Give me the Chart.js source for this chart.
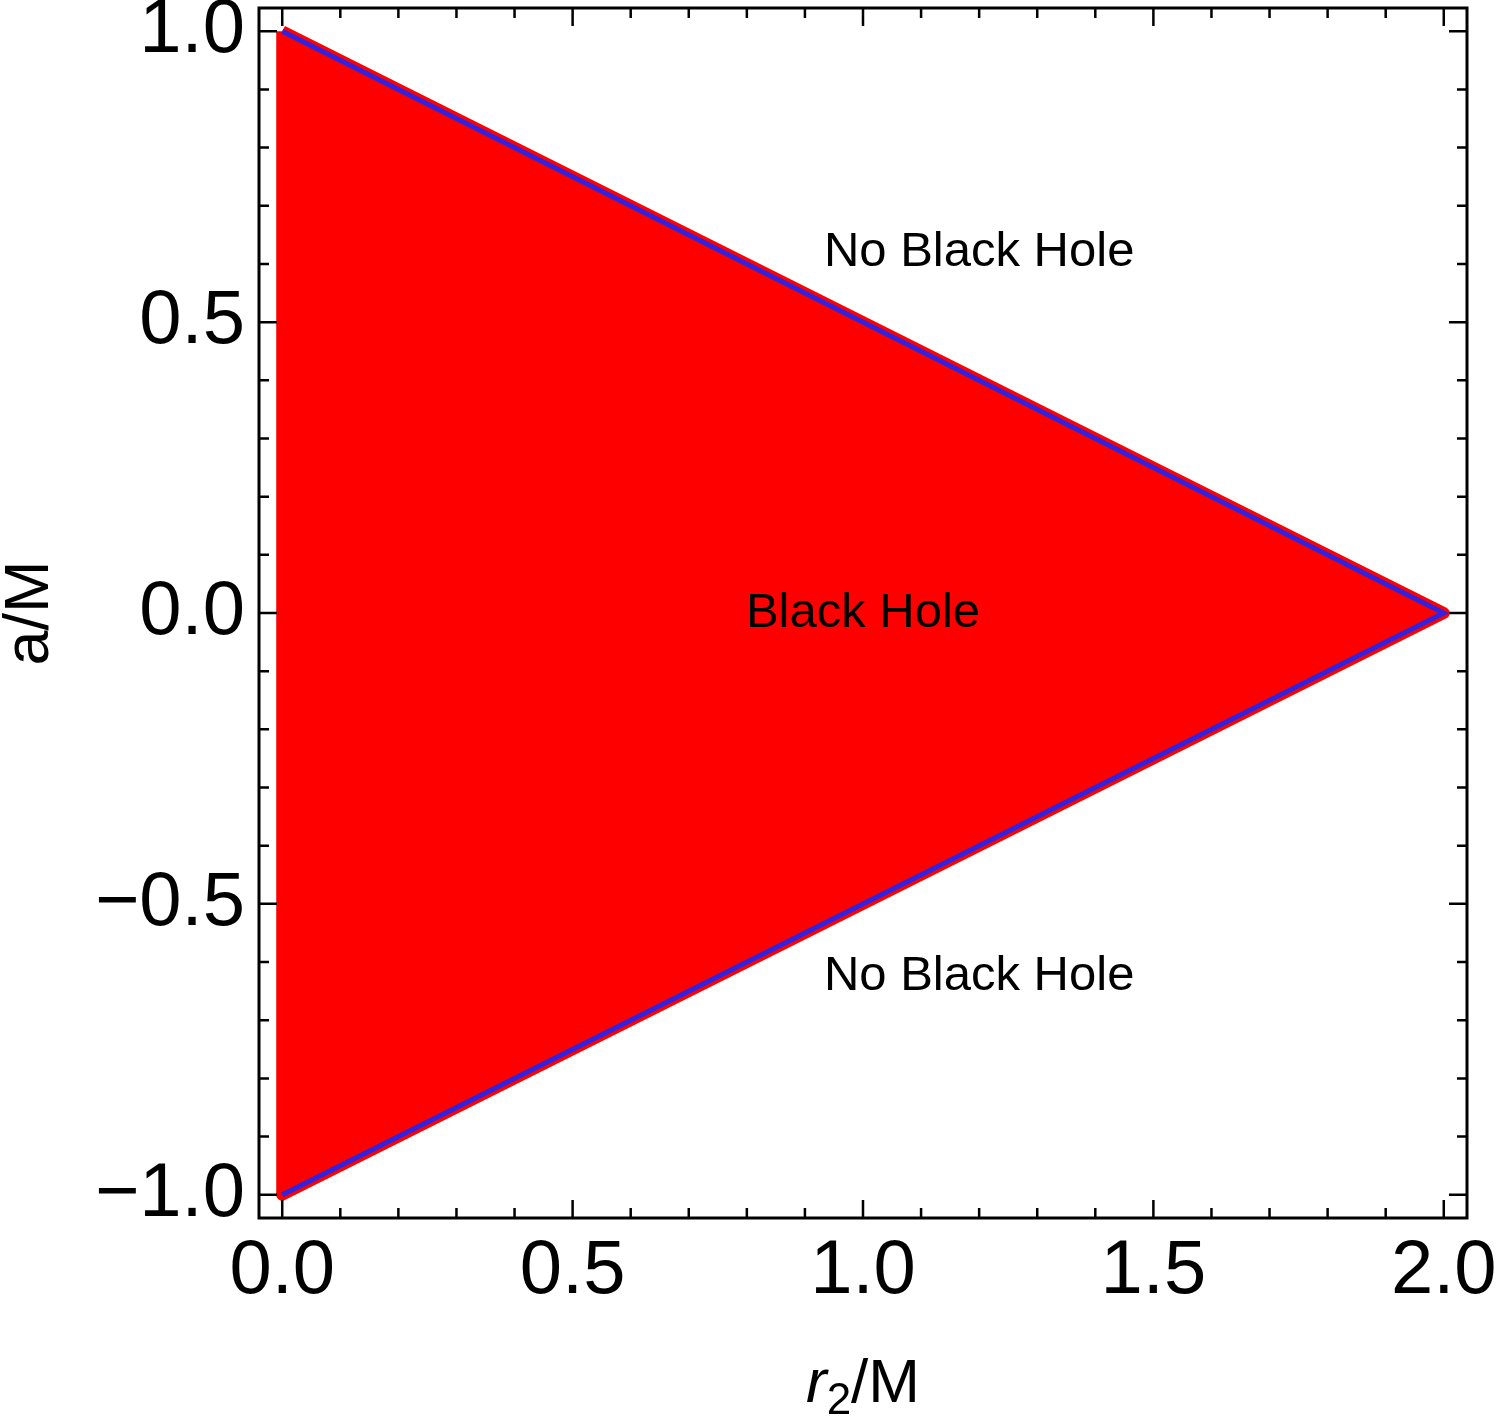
<!DOCTYPE html>
<html>
<head>
<meta charset="utf-8">
<script src="https://cdn.jsdelivr.net/npm/chart.js@4"></script>
<style>
  html, body { margin: 0; padding: 0; background: #fff; }
  #wrap { width: 1496px; height: 1416px; }
</style>
</head>
<body>
<div id="wrap"><canvas id="bhChart" width="1496" height="1416"></canvas></div>
<script>
// corners of the black-hole region (r2/M, a/M)
const regionR2 = [0, 2, 0, 0];
const regionA = [1, 0, -1, 1];
// boundary line a = +/-(1 - r2/2)
const edgeR2 = [0, 2, 0];
const edgeA = [1, 0, -1];

const r2Ticks = [0, 0.5, 1, 1.5, 2];
const aTicks = [-1, -0.5, 0, 0.5, 1];

const regionNames = ["No Black Hole", "Black Hole", "No Black Hole"];
const nameR2 = [1.2, 1.0, 1.2];
const nameA = [0.62, 0, -0.625];

const FONT = "'Liberation Sans', Arial, Helvetica, sans-serif";

function fmt(v) {
  const s = Math.abs(v).toFixed(1);
  return v < 0 ? "\u2212" + s : s;
}

const toPts = (xs, ys) => xs.map((x, i) => ({ x: x, y: ys[i] }));

// frame, inward ticks on all sides, text labels
const framePlugin = {
  id: "frame",
  afterDatasetsDraw(chart) {
    const ctx = chart.ctx;
    const xs = chart.scales.x, ys = chart.scales.y;
    const a = chart.chartArea;

    ctx.save();
    ctx.fillStyle = "#000";
    ctx.textAlign = "center";
    ctx.textBaseline = "middle";
    ctx.font = "49px " + FONT;
    regionNames.forEach((t, i) => {
      ctx.fillText(t, xs.getPixelForValue(nameR2[i]), ys.getPixelForValue(nameA[i]));
    });

    ctx.strokeStyle = "#000";
    ctx.lineWidth = 3;
    ctx.strokeRect(a.left, a.top, a.right - a.left, a.bottom - a.top);

    ctx.lineWidth = 2.5;
    ctx.beginPath();
    for (let k = 0; k <= 20; k++) {
      const v = k / 10;
      const px = xs.getPixelForValue(v);
      const len = k % 5 === 0 ? 18 : 10;
      ctx.moveTo(px, a.bottom); ctx.lineTo(px, a.bottom - len);
      ctx.moveTo(px, a.top); ctx.lineTo(px, a.top + len);
    }
    for (let k = -10; k <= 10; k++) {
      const v = k / 10;
      const py = ys.getPixelForValue(v);
      const len = k % 5 === 0 ? 18 : 10;
      ctx.moveTo(a.left, py); ctx.lineTo(a.left + len, py);
      ctx.moveTo(a.right, py); ctx.lineTo(a.right - len, py);
    }
    ctx.stroke();

    // x axis title: italic r, subscript 2, /M
    const base = 1402;
    const cx = (a.left + a.right) / 2;
    ctx.textAlign = "left";
    ctx.textBaseline = "alphabetic";
    ctx.font = "italic 62px " + FONT;
    const wR = ctx.measureText("r").width;
    ctx.font = "44px " + FONT;
    const w2 = ctx.measureText("2").width;
    ctx.font = "62px " + FONT;
    const wM = ctx.measureText("/M").width;
    let x0 = cx - (wR + w2 + wM) / 2;
    ctx.font = "italic 62px " + FONT;
    ctx.fillText("r", x0, base);
    x0 += wR;
    ctx.font = "44px " + FONT;
    ctx.fillText("2", x0, base + 12);
    x0 += w2;
    ctx.font = "62px " + FONT;
    ctx.fillText("/M", x0, base);
    ctx.restore();
  }
};

const config = {
  type: "scatter",
  data: {
    datasets: [
      {
        label: "boundary",
        data: toPts(edgeR2, edgeA),
        showLine: true,
        borderColor: "#3322dd",
        borderWidth: 5,
        pointRadius: 0,
        fill: false,
        order: 1
      },
      {
        label: "Black Hole",
        data: toPts(regionR2, regionA),
        showLine: true,
        borderColor: "#ff0000",
        backgroundColor: "#ff0000",
        borderWidth: 12,
        borderJoinStyle: "round",
        pointRadius: 0,
        fill: "shape",
        order: 2
      }
    ]
  },
  options: {
    responsive: false,
    devicePixelRatio: 1,
    animation: false,
    layout: { padding: { top: 8, right: 29, left: 0, bottom: 0 } },
    plugins: {
      legend: { display: false },
      tooltip: { enabled: false }
    },
    scales: {
      x: {
        type: "linear",
        min: -0.04,
        max: 2.04,
        afterBuildTicks: (s) => { s.ticks = r2Ticks.map((v) => ({ value: v })); },
        afterFit: (s) => {
          s.height = 198;
          s.paddingLeft = 0; s.paddingRight = 0;
        },
        grid: { display: false, drawTicks: false },
        border: { display: false },
        ticks: {
          padding: 8,
          color: "#000",
          maxRotation: 0,
          font: { size: 76, family: FONT },
          callback: (v) => fmt(v)
        },
        title: { display: false, text: "r\u2082/M" }
      },
      y: {
        type: "linear",
        min: -1.04,
        max: 1.04,
        afterBuildTicks: (s) => { s.ticks = aTicks.map((v) => ({ value: v })); },
        afterFit: (s) => {
          s.width = 259;
          s.paddingTop = 0; s.paddingBottom = 0;
        },
        grid: { display: false, drawTicks: false },
        border: { display: false },
        ticks: {
          padding: 14,
          color: "#000",
          font: { size: 76, family: FONT },
          callback: (v) => fmt(v)
        },
        title: {
          display: true,
          text: "a/M",
          color: "#000",
          padding: { top: -7, bottom: 0 },
          font: { size: 63, family: FONT }
        }
      }
    }
  },
  plugins: [framePlugin]
};

new Chart(document.getElementById("bhChart"), config);
</script>
</body>
</html>
